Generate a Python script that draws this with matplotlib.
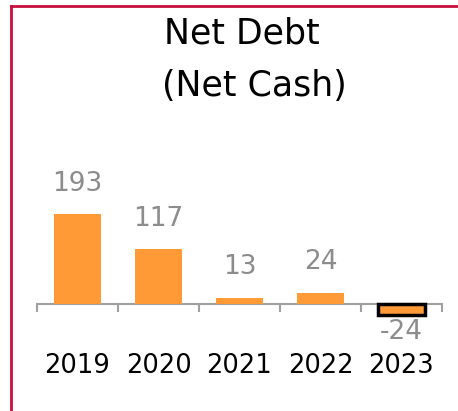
import matplotlib.pyplot as plt
from matplotlib.lines import Line2D

years = ['2019', '2020', '2021', '2022', '2023']
net_debt = [193, 117, 13, 24, -24]

W, H = 458, 411
fig = plt.figure(figsize=(W / 100, H / 100), dpi=100)

# axes placed so that zero sits at y=304 px and 1 unit ~ 0.466 px
y_lo, y_hi = -100, 200
scale = 0.466
ax_top = 304 - y_hi * scale
ax_bot = 304 - y_lo * scale
ax = fig.add_axes([37 / W, (H - ax_bot) / H, 405 / W, (ax_bot - ax_top) / H])
ax.set_xlim(-0.5, 4.5)
ax.set_ylim(y_lo, y_hi)

x = list(range(len(years)))
bars = ax.bar(x, net_debt, width=0.57, color='#FF9A36', zorder=3)
for b, v in zip(bars, net_debt):
    cx = b.get_x() + b.get_width() / 2
    if v < 0:
        b.set_edgecolor('#000000')
        b.set_linewidth(2.5)
        ax.annotate(str(v), (cx, v), xytext=(0, -12), textcoords='offset points',
                    ha='center', va='center', fontsize=19, color='#8C8C8C', zorder=4)
    else:
        ax.annotate(str(v), (cx, v), xytext=(0, 22), textcoords='offset points',
                    ha='center', va='center', fontsize=19, color='#8C8C8C')

for s in ['top', 'right', 'left']:
    ax.spines[s].set_visible(False)
ax.spines['bottom'].set_position(('data', 0))
ax.spines['bottom'].set_color('#A0A0A0')
ax.spines['bottom'].set_linewidth(1.5)
ax.spines['bottom'].set_zorder(2)
ax.set_yticks([])
ax.set_xticks([i - 0.5 for i in range(len(years) + 1)])
ax.set_xticklabels([])
ax.tick_params(axis='x', which='major', direction='out', length=6, width=1.5, color='#A0A0A0')
ax.set_xticks(x, minor=True)
ax.set_xticklabels(years, minor=True, fontsize=18.5, color='#000000')
ax.tick_params(axis='x', which='minor', length=0, pad=35)
ax.patch.set_visible(False)

fig.text(242 / W, 1 - 44 / H, 'Net Debt', ha='center', va='baseline', fontsize=25, color='#000000')
fig.text(254 / W, 1 - 96 / H, '(Net Cash)', ha='center', va='baseline', fontsize=25, color='#000000')

red = '#C8103E'
fig.add_artist(Line2D([11 / W, 1], [1 - 6 / H, 1 - 6 / H], color=red, lw=2, transform=fig.transFigure))
fig.add_artist(Line2D([11 / W, 11 / W], [0, 1 - 6 / H], color=red, lw=2, transform=fig.transFigure))

fig.savefig('out.png', dpi=100)
